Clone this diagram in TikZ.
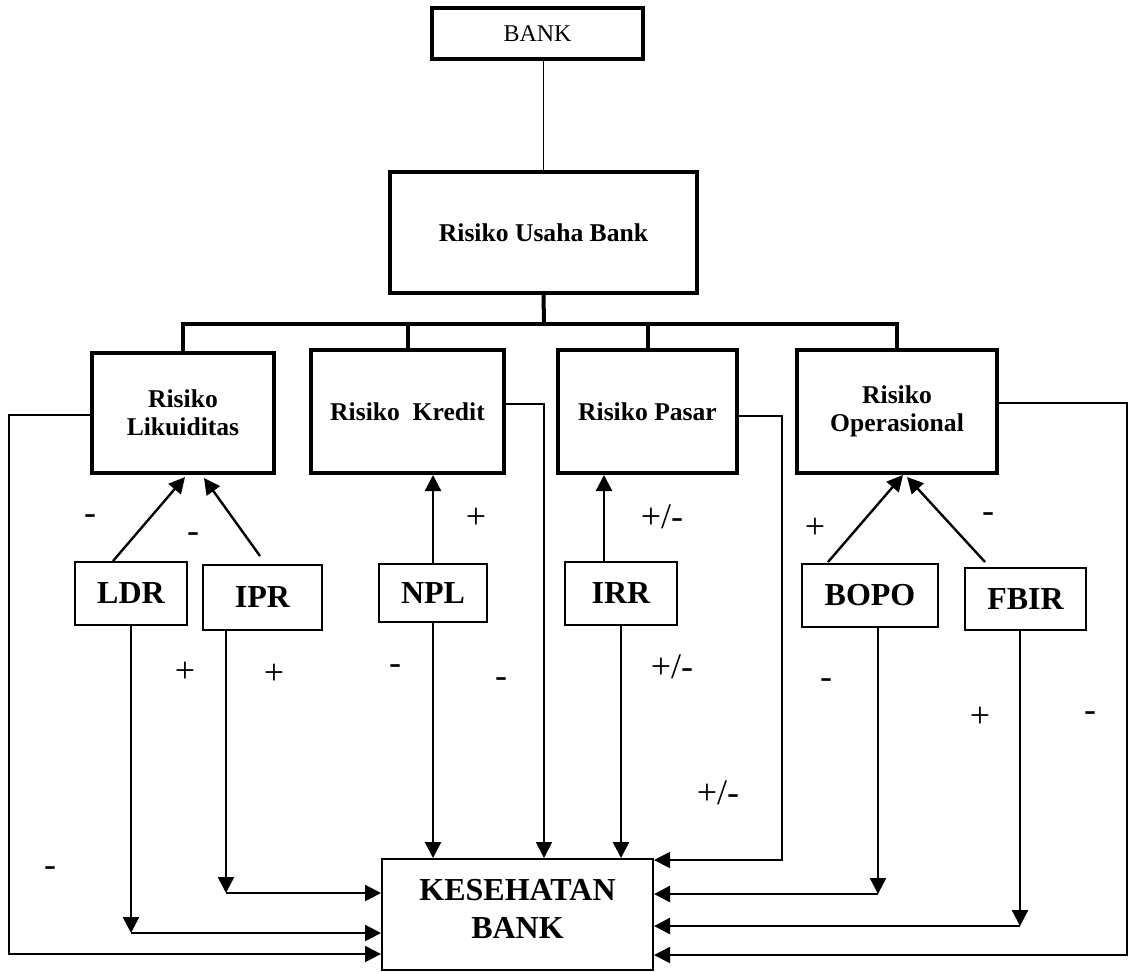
\documentclass[tikz,border=0pt]{standalone}
\usepackage{fontspec}
\setmainfont{Liberation Serif}
\usetikzlibrary{positioning,calc,arrows.meta}

\tikzset{
    bigbox/.style={draw, line width=2pt, inner sep=0pt, align=center,
        font=\bfseries\fontsize{12.8}{14}\selectfont},
    smallbox/.style={draw, line width=1pt, inner sep=0pt, align=center,
        font=\bfseries\fontsize{16}{19}\selectfont},
    sign/.style={inner sep=0pt, font=\fontsize{18}{18}\selectfont},
    tip/.style={-{Triangle[length=8pt,width=8pt]}},
    conn/.style={line width=1.2pt, tip},
    route/.style={line width=0.9pt},
    bus/.style={line width=2pt}
}

\begin{document}
\begin{tikzpicture}[x=0.5pt, y=-0.5pt]
    \useasboundingbox (0,0) rectangle (1128,971);

    % boxes
    \node (BANK) [draw, line width=1.6pt, minimum width=105.5pt, minimum height=25.5pt,
        inner sep=0pt, font=\fontsize{12}{12}\selectfont] at (537.5,33.5) {BANK};
    \node (RUB) [bigbox, minimum width=153.5pt, minimum height=60.5pt] at (543.5,232.5) {Risiko Usaha Bank};
    \node (RL) [bigbox, minimum width=91pt, minimum height=60pt] at (183,413) {Risiko\\Likuiditas};
    \node (RK) [bigbox, minimum width=96.5pt, minimum height=61.5pt] at (407.5,411.5) {Risiko\ \ Kredit};
    \node (RP) [bigbox, minimum width=89.5pt, minimum height=61.5pt] at (647.5,411.5) {Risiko Pasar};
    \node (RO) [bigbox, minimum width=100pt, minimum height=61.5pt] at (897,411.5) {Risiko\\Operasional};
    \node (LDR) [smallbox, minimum width=56pt, minimum height=31.5pt] at (131,593.5) {LDR};
    \node (IPR) [smallbox, minimum width=59.5pt, minimum height=32.5pt] at (262.5,597.5) {IPR};
    \node (NPL) [smallbox, minimum width=54pt, minimum height=29pt] at (433,593) {NPL};
    \node (IRR) [smallbox, minimum width=56pt, minimum height=31.5pt] at (621,593.5) {IRR};
    \node (BOPO) [smallbox, minimum width=68pt, minimum height=31.5pt] at (870,595.5) {BOPO};
    \node (FBIR) [smallbox, minimum width=60.5pt, minimum height=31pt] at (1025.5,599) {FBIR};
    \node (KB) [smallbox, minimum width=135.5pt, minimum height=55.5pt] at (517.5,914.5) {KESEHATAN\\BANK\\[-13pt]};

    % tree
    \coordinate (bus) at (544,324);
    \draw[route] (RUB.north |- BANK.south) -- (RUB.north);
    \draw[bus] (RUB.south) -- (bus);
    \draw[bus] (RL.north) |- (bus) -| (RO.north);
    \draw[bus] (RK.north) -- (RK.north |- bus);
    \draw[bus] (RP.north) -- (RP.north |- bus);

    % ratios to risks
    \draw[conn] ($(LDR.north)+(-18,0)$) -- ($(RL.south)+(2,2)$);
    \draw[conn] ($(IPR.north)+(-2.5,-8)$) -- ($(RL.south)+(21,3)$);
    \draw[conn] (NPL.north) -- (NPL.north |- RK.south);
    \draw[conn] ($(IRR.north)+(-17,0)$) -- ($(RP.south)+(-43.5,0)$);
    \draw[conn] ($(BOPO.north)+(-42,-1)$) -- ($(RO.south)+(6,0)$);
    \draw[conn] ($(FBIR.north)+(-40.5,-5)$) -- ($(RO.south)+(10,2)$);

    % corners
    \coordinate (cRL) at (9,954);
    \coordinate (cLDR) at (131,933);
    \coordinate (cIPR) at (226,893);
    \coordinate (cRK) at (544,404);
    \coordinate (cRP) at (782,416);
    \coordinate (dRP) at (782,860);
    \coordinate (cBOPO) at (878,894);
    \coordinate (cFBIR) at (1020,926);
    \coordinate (cRO) at (1127,403);
    \coordinate (dRO) at (1127,955);

    % into KESEHATAN BANK
    \draw[route, tip] (RL.west |- 0,415) -| (cRL) -- (cRL -| KB.west);
    \draw[conn] (LDR.south) -- (cLDR);
    \draw[conn] (cLDR) -- (cLDR -| KB.west);
    \draw[conn] (cIPR |- IPR.south) -- (cIPR);
    \draw[conn] (cIPR) -- (cIPR -| KB.west);
    \draw[conn] (NPL.south) -- (NPL.south |- KB.north);
    \draw[route, tip] (RK.east |- cRK) -- (cRK) -- (cRK |- KB.north);
    \draw[conn] (IRR.south) -- (IRR.south |- KB.north);
    \draw[route, tip] (RP.east |- cRP) -- (cRP) -- (dRP) -- (dRP -| KB.east);
    \draw[conn] (cBOPO |- BOPO.south) -- (cBOPO);
    \draw[conn] (cBOPO) -- (cBOPO -| KB.east);
    \draw[conn] (cFBIR |- FBIR.south) -- (cFBIR);
    \draw[conn] (cFBIR) -- (cFBIR -| KB.east);
    \draw[route, tip] (RO.east |- cRO) -- (cRO) -- (dRO) -- (dRO -| KB.east);

    % signs
    \node (sLDR) [sign] at (90,520) {-};
    \node (sIPR) [sign] at (193,538) {-};
    \node (sNPL) [sign] at (476,518) {+};
    \node (sIRR) [sign] at (662,517) {+/-};
    \node (sBOPO) [sign] at (815,528) {+};
    \node (sFBIR) [sign] at (988,518) {-};
    \node (kLDR) [sign] at (185,672) {+};
    \node (kIPR) [sign] at (274,674) {+};
    \node (kNPL) [sign] at (395,670) {-};
    \node (kRK) [sign] at (501,683) {-};
    \node (kIRR) [sign] at (672,667) {+/-};
    \node (kRP) [sign] at (718,793) {+/-};
    \node (kBOPO) [sign] at (826,684) {-};
    \node (kFBIR) [sign] at (980,717) {+};
    \node (kRO) [sign] at (1090,717) {-};
    \node (kRL) [sign] at (50,872) {-};
\end{tikzpicture}
\end{document}
